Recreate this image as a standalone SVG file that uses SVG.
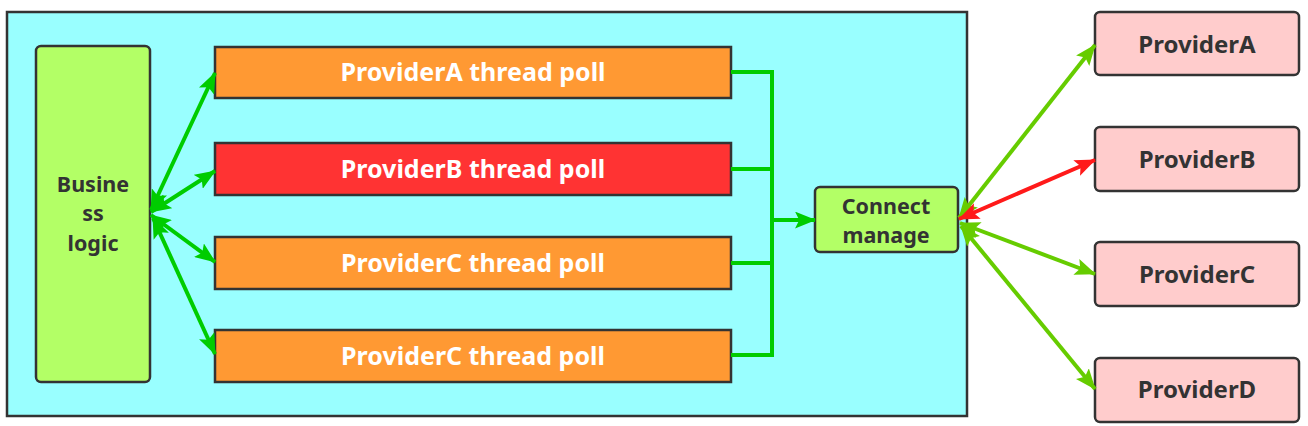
<svg xmlns="http://www.w3.org/2000/svg" width="1308" height="426" viewBox="0 0 1308 426">
<style>
.box{stroke:#333;stroke-width:2.5}
.t{font-family:"Noto Sans","Open Sans",sans-serif;font-weight:bold;text-anchor:middle}
.dark{fill:#333;font-size:24px}
.ml{font-size:21.5px}
.white{fill:#fff;font-size:25px}
.g{stroke:#00cc00;stroke-width:4;fill:none}
.y{stroke:#66cc00;stroke-width:4;fill:none}
.r{stroke:#ff1a1a;stroke-width:4;fill:none}
</style>
<defs>
<marker id="ag" viewBox="0 0 20 16" refX="19" refY="8" markerWidth="21" markerHeight="17" markerUnits="userSpaceOnUse" orient="auto-start-reverse"><path d="M0,0 L20,8 L0,16 L4,8 Z" fill="#00cc00"/></marker>
<marker id="ay" viewBox="0 0 20 16" refX="19" refY="8" markerWidth="21" markerHeight="17" markerUnits="userSpaceOnUse" orient="auto-start-reverse"><path d="M0,0 L20,8 L0,16 L4,8 Z" fill="#66cc00"/></marker>
<marker id="ar" viewBox="0 0 20 16" refX="19" refY="8" markerWidth="21" markerHeight="17" markerUnits="userSpaceOnUse" orient="auto-start-reverse"><path d="M0,0 L20,8 L0,16 L4,8 Z" fill="#ff1a1a"/></marker>
</defs>
<rect width="1308" height="426" fill="#fff"/>
<g id="container"><rect class="box" x="7" y="12" width="960" height="404" fill="#99ffff"/></g>
<g id="business"><rect class="box" x="36" y="46" width="114" height="336" rx="5" fill="#b3ff66"/>
<text class="t dark ml" x="93" y="191.5">Busine</text><text class="t dark ml" x="93" y="221">ss</text><text class="t dark ml" x="93" y="250.5">logic</text></g>
<g id="poolA"><rect class="box" x="215" y="47" width="516" height="51" fill="#ff9933"/><text class="t white" x="473" y="81">ProviderA thread poll</text></g>
<g id="poolB"><rect class="box" x="215" y="143" width="516" height="52" fill="#ff3333"/><text class="t white" x="473" y="178">ProviderB thread poll</text></g>
<g id="poolC"><rect class="box" x="215" y="237" width="516" height="52" fill="#ff9933"/><text class="t white" x="473" y="272">ProviderC thread poll</text></g>
<g id="poolC2"><rect class="box" x="215" y="330" width="516" height="52" fill="#ff9933"/><text class="t white" x="473" y="365">ProviderC thread poll</text></g>
<g id="connect"><rect class="box" x="815" y="187" width="143" height="65" rx="5" fill="#b3ff66"/>
<text class="t dark ml" x="886" y="213.5">Connect</text><text class="t dark ml" x="886" y="243">manage</text></g>
<g id="provA"><rect class="box" x="1095" y="12" width="204" height="63" rx="5" fill="#ffcccc"/><text class="t dark" x="1197" y="53">ProviderA</text></g>
<g id="provB"><rect class="box" x="1095" y="127" width="204" height="64" rx="5" fill="#ffcccc"/><text class="t dark" x="1197" y="168">ProviderB</text></g>
<g id="provC"><rect class="box" x="1095" y="242" width="204" height="64" rx="5" fill="#ffcccc"/><text class="t dark" x="1197" y="283">ProviderC</text></g>
<g id="provD"><rect class="box" x="1095" y="358" width="204" height="64" rx="5" fill="#ffcccc"/><text class="t dark" x="1197" y="398">ProviderD</text></g>
<g id="connectors">
<line class="g" x1="151" y1="210" x2="215" y2="73" marker-start="url(#ag)" marker-end="url(#ag)"/>
<line class="g" x1="151" y1="212" x2="215" y2="171" marker-start="url(#ag)" marker-end="url(#ag)"/>
<line class="g" x1="151" y1="215" x2="215" y2="262" marker-start="url(#ag)" marker-end="url(#ag)"/>
<line class="g" x1="153" y1="218" x2="215" y2="354" marker-start="url(#ag)" marker-end="url(#ag)"/>
<path class="g" d="M731,72 H772 V355 H731 M731,169 H772 M731,263 H772"/>
<line class="g" x1="772" y1="220" x2="815" y2="220" marker-end="url(#ag)"/>
<line class="y" x1="959" y1="218" x2="1095" y2="45" marker-start="url(#ay)" marker-end="url(#ay)"/>
<line class="r" x1="959" y1="219" x2="1095" y2="160" marker-start="url(#ar)" marker-end="url(#ar)"/>
<line class="y" x1="960" y1="223" x2="1095" y2="274" marker-start="url(#ay)" marker-end="url(#ay)"/>
<line class="y" x1="961" y1="226" x2="1095" y2="389" marker-start="url(#ay)" marker-end="url(#ay)"/>
</g>
</svg>
